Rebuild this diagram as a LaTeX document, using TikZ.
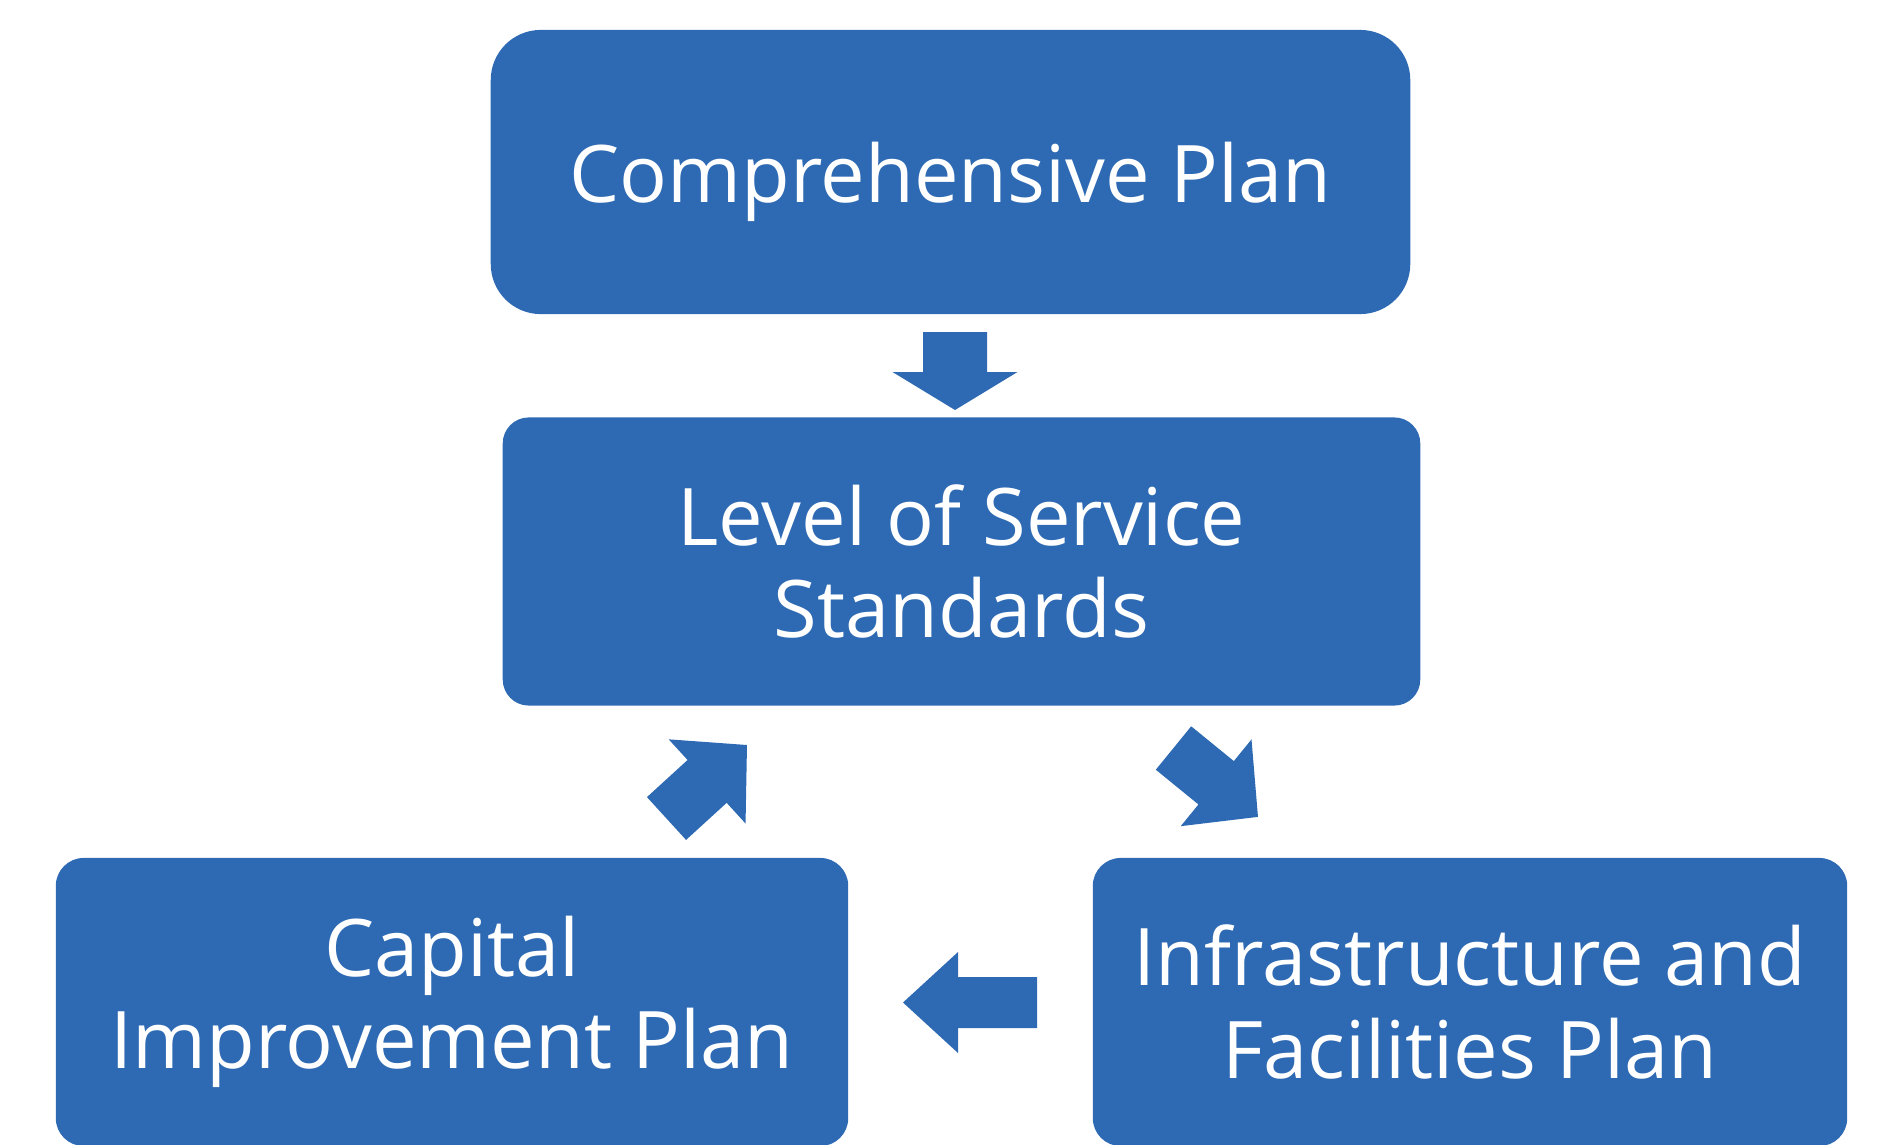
\documentclass[tikz,border=0pt]{standalone}
\usepackage{fontspec}
\setmainfont{Open Sans}
\usepackage{tikz}
\definecolor{planblue}{HTML}{2E6AB3}

% block arrow: tail point, angle, length, shaft width, head width, head length
\newcommand{\blkarrow}[6]{%
  \fill[planblue, shift={#1}, rotate=#2] (0,-#4/2) -- ({#3-#6},-#4/2) -- ({#3-#6},-#5/2)
    -- (#3,0) -- ({#3-#6},#5/2) -- ({#3-#6},#4/2) -- (0,#4/2) -- cycle;}

\begin{document}
\begin{tikzpicture}[x=0.01cm,y=0.01cm,
    planbox/.style={fill=planblue, text=white, align=center, inner sep=0pt,
      font=\fontsize{22.6}{26.2}\selectfont}]

    \useasboundingbox (0,0) rectangle (1879,1144);

    \node[planbox, rounded corners=0.5cm, minimum width=9.19cm, minimum height=2.84cm, text depth=0pt] (comp) at (950.5,972) {Comprehensive Plan};
    \node[planbox, rounded corners=0.26cm, minimum width=9.17cm, minimum height=2.88cm] (los) at (961.5,582.5) {Level of Service\\Standards};
    \node[planbox, rounded corners=0.28cm, minimum width=7.92cm, minimum height=2.88cm] (cip) at (452,142) {Capital\\Improvement Plan};
    \node[planbox, rounded corners=0.28cm, minimum width=7.54cm, minimum height=2.88cm] (ifp) at (1470,142) {Infrastructure and\\Facilities Plan};

    % arrows between the plans
    \blkarrow{(955,812)}{-90}{78}{64}{125}{38}
    \blkarrow{(1173.5,396)}{-39.2}{109}{56}{112}{54}
    \blkarrow{(1037,141.5)}{180}{134}{51}{101}{55}
    \blkarrow{(666.5,325.5)}{42.4}{109}{58}{114}{54}

\end{tikzpicture}
\end{document}
